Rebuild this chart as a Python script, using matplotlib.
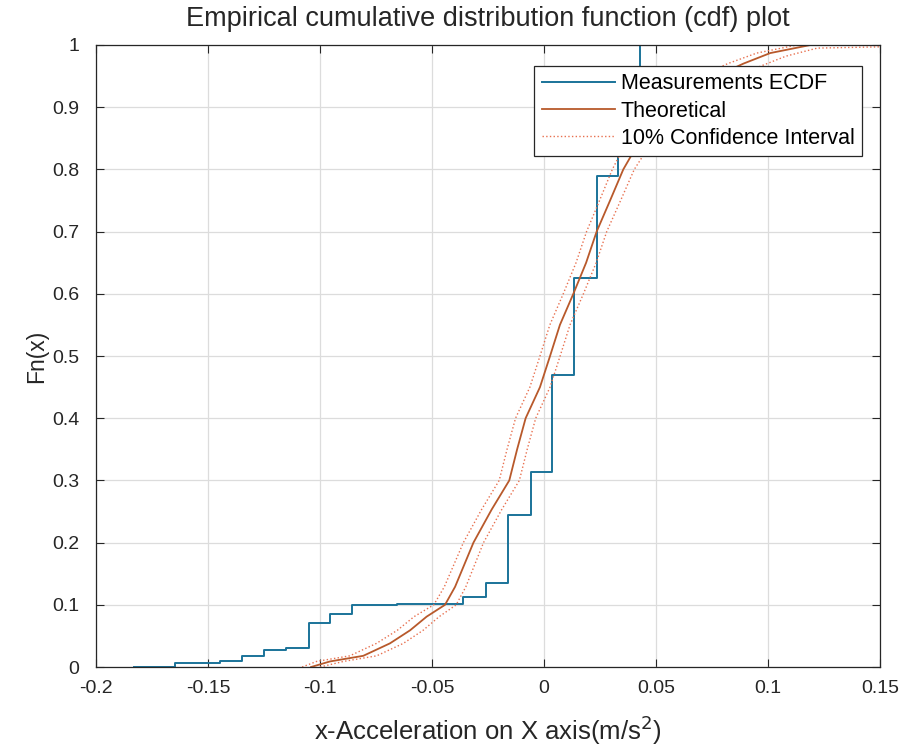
import numpy as np
import matplotlib
matplotlib.use('Agg')
import matplotlib.pyplot as plt

plt.rcParams['font.family'] = ['Liberation Sans', 'DejaVu Sans']

# ECDF of measurements (step positions and levels after each step)
ecdf_x = [-0.183, -0.1647, -0.1446, -0.135, -0.125, -0.115, -0.105, -0.0955, -0.0859,
          -0.0658, -0.036, -0.026, -0.016, -0.006, 0.0037, 0.0134, 0.0235, 0.0332, 0.0429]
ecdf_f = [0.0, 0.006, 0.010, 0.018, 0.027, 0.031, 0.071, 0.085, 0.0997,
          0.101, 0.113, 0.1355, 0.244, 0.314, 0.469, 0.625, 0.790, 0.900, 1.0]

# theoretical cdf
theo_x = [-0.104, -0.0955, -0.0807, -0.0688, -0.0598, -0.0524, -0.0442, -0.0397, -0.0315, -0.0234,
          -0.0155, -0.012, -0.0082, -0.0018, 0.0027, 0.0071, 0.0131, 0.0188, 0.0235, 0.0295,
          0.0354, 0.045, 0.065, 0.089, 0.101, 0.119, 0.150]
theo_f = [0.0, 0.009, 0.018, 0.038, 0.059, 0.081, 0.100, 0.129, 0.200, 0.253,
          0.300, 0.350, 0.400, 0.450, 0.500, 0.550, 0.600, 0.650, 0.700, 0.750,
          0.800, 0.860, 0.930, 0.970, 0.987, 1.0, 1.0]

# confidence interval bounds
upper_x = [-0.108, -0.1015, -0.0867, -0.0748, -0.0655, -0.058, -0.0492, -0.0445, -0.036, -0.0279,
           -0.0200, -0.0165, -0.0127, -0.0063, -0.0018, 0.0026, 0.0086, 0.0143, 0.019, 0.0248,
           0.0305, 0.039, 0.058, 0.082, 0.095, 0.113, 0.150]
upper_f = [0.0, 0.009, 0.018, 0.038, 0.059, 0.081, 0.100, 0.129, 0.200, 0.253,
           0.300, 0.350, 0.400, 0.450, 0.500, 0.550, 0.600, 0.650, 0.700, 0.750,
           0.800, 0.860, 0.930, 0.970, 0.987, 1.0, 1.0]
lower_x = [-0.100, -0.0895, -0.0747, -0.0628, -0.054, -0.0468, -0.0392, -0.0349, -0.027, -0.0189,
           -0.0110, -0.0075, -0.0037, 0.0027, 0.0072, 0.0116, 0.0176, 0.0233, 0.028, 0.0342,
           0.0403, 0.051, 0.072, 0.096, 0.108, 0.122, 0.150]
lower_f = [0.0, 0.009, 0.018, 0.038, 0.059, 0.081, 0.100, 0.129, 0.200, 0.253,
           0.300, 0.350, 0.400, 0.450, 0.500, 0.550, 0.600, 0.650, 0.700, 0.750,
           0.800, 0.860, 0.930, 0.965, 0.982, 0.995, 0.997]

xticks = [-0.2, -0.15, -0.1, -0.05, 0, 0.05, 0.1, 0.15]
xtick_labels = ['-0.2', '-0.15', '-0.1', '-0.05', '0', '0.05', '0.1', '0.15']
yticks = [0, 0.1, 0.2, 0.3, 0.4, 0.5, 0.6, 0.7, 0.8, 0.9, 1]
ytick_labels = ['0', '0.1', '0.2', '0.3', '0.4', '0.5', '0.6', '0.7', '0.8', '0.9', '1']

fig = plt.figure(figsize=(9.12, 7.56), dpi=100)
ax = fig.add_axes([0.1053, 0.1177, 0.8596, 0.8228])

ax.step(ecdf_x, ecdf_f, where='post', color='#1a7399', lw=1.4, label='Measurements ECDF')
ax.plot(theo_x, theo_f, color='#b8592b', lw=1.3, label='Theoretical')
ax.plot(upper_x, upper_f, color='#e8704f', lw=1.0, ls=':', label='10% Confidence Interval')
ax.plot(lower_x, lower_f, color='#e8704f', lw=1.0, ls=':')

ax.set_xlim(-0.2, 0.15)
ax.set_ylim(0, 1)
ax.set_xticks(xticks)
ax.set_xticklabels(xtick_labels)
ax.set_yticks(yticks)
ax.set_yticklabels(ytick_labels)
ax.tick_params(direction='in', length=6, width=0.8, top=True, right=True,
               labelsize=14, colors='#262626')
ax.tick_params(axis='x', pad=9)
ax.tick_params(axis='y', pad=12)
ax.grid(True, color='#dcdcdc', lw=0.9)
ax.set_axisbelow(True)
for s in ax.spines.values():
    s.set_linewidth(0.9)
    s.set_color('#262626')

ax.set_xlabel('x-Acceleration on X axis(m/s$^2$)', fontsize=18.5, color='#262626', labelpad=12)
ax.set_ylabel('Fn(x)', fontsize=16.5, color='#262626', labelpad=3)
ax.set_title('Empirical cumulative distribution function (cdf) plot', fontsize=19.5,
             color='#262626', pad=14)

leg = ax.legend(loc='upper right', bbox_to_anchor=(0.977, 0.967), fontsize=15.5,
                handlelength=3.4, handletextpad=0.25, borderpad=0.35, labelspacing=0.3,
                fancybox=False, framealpha=1, edgecolor='#262626', borderaxespad=0)
leg.get_frame().set_linewidth(0.9)

plt.savefig('out.png', dpi=100)
